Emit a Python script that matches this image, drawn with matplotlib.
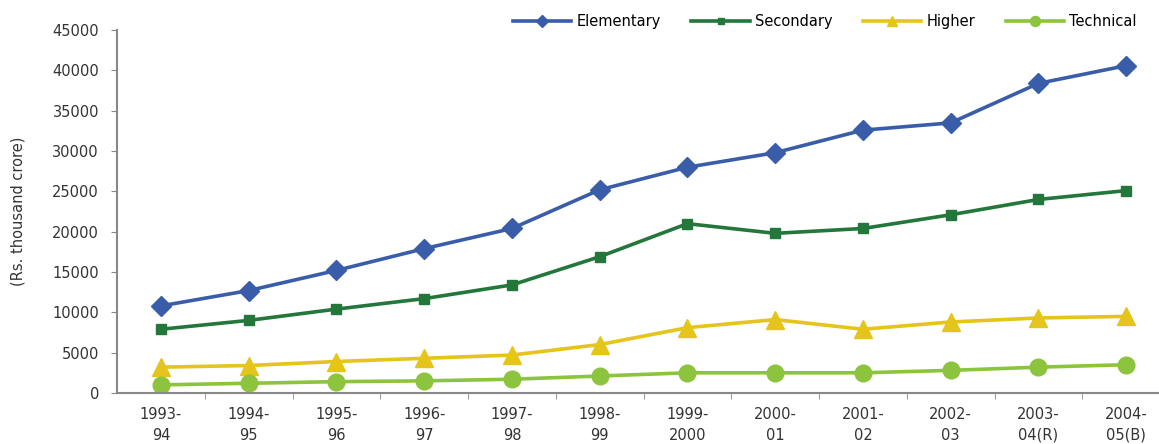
import matplotlib
matplotlib.use("Agg")
import matplotlib.pyplot as plt

years_top = ["1993-", "1994-", "1995-", "1996-", "1997-", "1998-",
             "1999-", "2000-", "2001-", "2002-", "2003-", "2004-"]
years_bottom = ["94", "95", "96", "97", "98", "99",
                "2000", "01", "02", "03", "04(R)", "05(B)"]
categories = [f"{a}\n{b}" for a, b in zip(years_top, years_bottom)]

elementary = [10800, 12700, 15200, 17900, 20400, 25200,
              28000, 29800, 32600, 33500, 38400, 40600]
secondary = [7900, 9000, 10400, 11700, 13400, 16900,
             21000, 19800, 20400, 22100, 24000, 25100]
higher = [3200, 3400, 3900, 4300, 4700, 6000,
          8100, 9100, 7900, 8800, 9300, 9500]
technical = [1000, 1200, 1400, 1500, 1700, 2100,
             2500, 2500, 2500, 2800, 3200, 3500]

series = [
    ("Elementary", elementary, "#3a5daa", "D", 10),
    ("Secondary", secondary, "#23773a", "s", 7),
    ("Higher", higher, "#e5c41b", "^", 13),
    ("Technical", technical, "#8cc43d", "o", 12),
]

plt.rcParams["font.family"] = ["DejaVu Sans"]
text_color = "#333333"
fs = 10.5

fig = plt.figure(figsize=(11.59, 4.44), dpi=100)
ax = fig.add_axes([0.101, 0.115, 0.9085, 0.817])

x = list(range(len(categories)))
for name, vals, color, marker, ms in series:
    ax.plot(x, vals, color=color, lw=2.6, marker=marker, ms=ms,
            markeredgecolor=color, label=name)

ax.set_xlim(-0.5, len(categories) - 0.5)
ax.set_ylim(0, 45000)
ax.set_yticks(range(0, 45001, 5000))
ax.set_yticklabels([str(v) for v in range(0, 45001, 5000)], fontsize=fs, color=text_color)

ax.set_xticks(x)
ax.set_xticklabels(categories, fontsize=fs, color=text_color, linespacing=1.5)
ax.tick_params(axis="x", length=0, pad=10)
ax.set_xticks([i + 0.5 for i in x[:-1]], minor=True)
ax.tick_params(axis="x", which="minor", length=4, direction="out", color="#888888")
ax.tick_params(axis="y", length=4, direction="out", color="#888888", pad=9)

for side in ("top", "right"):
    ax.spines[side].set_visible(False)
for side in ("left", "bottom"):
    ax.spines[side].set_color("#888888")
    ax.spines[side].set_linewidth(1.5)

ax.set_ylabel("(Rs. thousand crore)", fontsize=fs, color=text_color, labelpad=19)

ax.legend(loc="center right", bbox_to_anchor=(0.974, 1.025), ncol=4, frameon=False,
          fontsize=fs, handlelength=4.0, handletextpad=0.35, columnspacing=2.1,
          markerscale=0.6, borderaxespad=0)

fig.savefig("out.png", dpi=100)
